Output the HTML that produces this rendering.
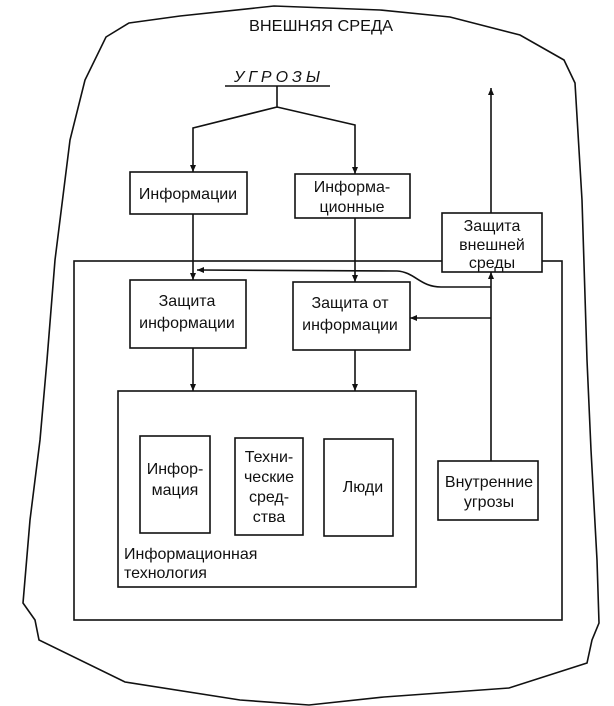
<!DOCTYPE html>
<html><head><meta charset="utf-8"><style>
html,body{margin:0;padding:0;background:#fff;}
svg{display:block}
text{font-family:"Liberation Sans","DejaVu Sans",sans-serif;fill:#111;font-size:16px;}
</style></head><body>
<svg width="614" height="706" viewBox="0 0 614 706" xmlns="http://www.w3.org/2000/svg">
<defs><marker id="a" markerWidth="8" markerHeight="8" refX="7" refY="4" orient="auto" markerUnits="userSpaceOnUse"><path d="M0,1 L7,4 L0,7 z" fill="#111"/></marker></defs>
<g fill="none" stroke="#111" stroke-width="1.6">
<path d="M129,23 L180,16 L274,6 L380,10 L450,17 L520,35 L564,60 L575,83 L582,200 L587,360 L591,450 L597,560 L599,623 L592,640 L587,663 L509,688 L384,697 L309,705 L240,700 L125,682 L39,640 L35,620 L23,603 L30,520 L40,440 L47,360 L55,260 L70,140 L85,80 L106,37 Z"/>
<rect x="74" y="261" width="488" height="359"/>
<rect x="130" y="172" width="117" height="42" fill="#fff"/>
<rect x="295" y="174" width="115" height="44" fill="#fff"/>
<rect x="442" y="213" width="100" height="59" fill="#fff"/>
<rect x="130" y="280" width="116" height="68" fill="#fff"/>
<rect x="293" y="282" width="117" height="68" fill="#fff"/>
<rect x="118" y="391" width="298" height="196"/>
<rect x="140" y="436" width="70" height="97"/>
<rect x="235" y="438" width="68" height="97"/>
<rect x="324" y="439" width="69" height="97"/>
<rect x="438" y="461" width="100" height="59"/>
<line x1="225" y1="86" x2="330" y2="86"/>
<path d="M277,86 L277,107 L193,128 L193,172" marker-end="url(#a)"/>
<path d="M277,107 L355,125 L355,174" marker-end="url(#a)"/>
<path d="M193,214 L193,280" marker-end="url(#a)"/>
<path d="M355,218 L355,282" marker-end="url(#a)"/>
<path d="M193,348 L193,391" marker-end="url(#a)"/>
<path d="M355,350 L355,391" marker-end="url(#a)"/>
<path d="M491,213 L491,88" marker-end="url(#a)"/>
<path d="M491,461 L491,272" marker-end="url(#a)"/>
<path d="M491,287 L441,287 C420,287 415,272 397,271 L197,270" marker-end="url(#a)"/>
<path d="M491,318 L410,318" marker-end="url(#a)"/>
</g>
<text x="321" y="31" text-anchor="middle" font-size="17" textLength="144" lengthAdjust="spacingAndGlyphs">ВНЕШНЯЯ СРЕДА</text>
<text x="279" y="82" text-anchor="middle" font-size="12" font-style="italic" letter-spacing="4">УГРОЗЫ</text>
<text x="188" y="199" text-anchor="middle" font-size="17">Информации</text>
<text x="352" y="192" text-anchor="middle" font-size="17">Информа-</text>
<text x="352" y="212" text-anchor="middle" font-size="17">ционные</text>
<text x="492" y="231" text-anchor="middle" font-size="16">Защита</text>
<text x="492" y="250" text-anchor="middle" font-size="16">внешней</text>
<text x="492" y="268" text-anchor="middle" font-size="16">среды</text>
<text x="187" y="306" text-anchor="middle" font-size="17">Защита</text>
<text x="187" y="328" text-anchor="middle" font-size="17">информации</text>
<text x="350" y="308" text-anchor="middle" font-size="17">Защита от</text>
<text x="350" y="330" text-anchor="middle" font-size="17">информации</text>
<text x="175" y="474" text-anchor="middle" font-size="17">Инфор-</text>
<text x="175" y="495" text-anchor="middle" font-size="17">мация</text>
<text x="269" y="462" text-anchor="middle" font-size="16">Техни-</text>
<text x="269" y="482" text-anchor="middle" font-size="16">ческие</text>
<text x="269" y="502" text-anchor="middle" font-size="16">сред-</text>
<text x="269" y="522" text-anchor="middle" font-size="16">ства</text>
<text x="363" y="492" text-anchor="middle" font-size="17">Люди</text>
<text x="489" y="487" text-anchor="middle" font-size="16">Внутренние</text>
<text x="489" y="507" text-anchor="middle" font-size="16">угрозы</text>
<text x="124" y="559" font-size="16">Информационная</text>
<text x="124" y="578" font-size="16">технология</text>
</svg>
</body></html>
